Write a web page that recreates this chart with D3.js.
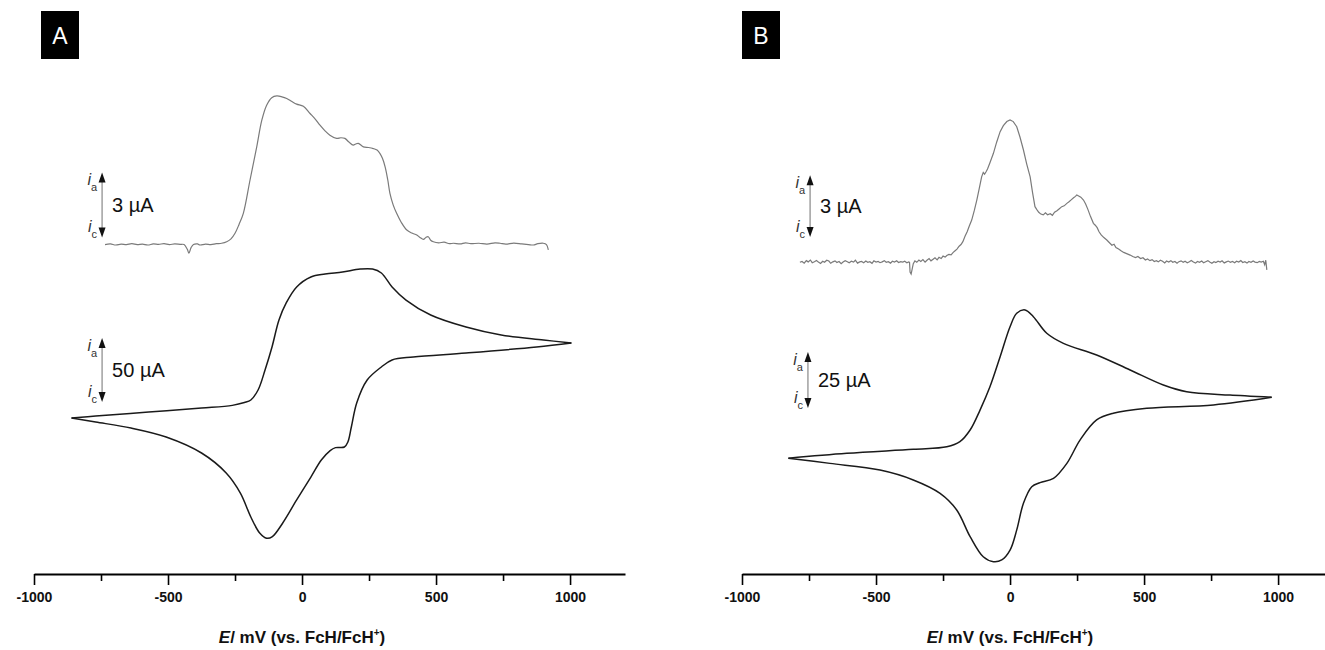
<!DOCTYPE html>
<html>
<head>
<meta charset="utf-8">
<script src="https://cdn.jsdelivr.net/npm/d3@7"></script>
<style>
  body { margin: 0; background: #fff; }
  svg { display: block; font-family: "Liberation Sans", Arial, sans-serif; }
</style>
</head>
<body>
<div id="chart"></div>
<script>
// ---- data (E in mV vs FcH/FcH+, i in µA) ----
const majorTicks = [-1000, -500, 0, 500, 1000];
const minorTicks = [-750, -250, 250, 750];

// panel A, differential pulse voltammogram
const dpvA = [[-735, 0.02], [-715, 0.05], [-695, 0.0], [-675, 0.04], [-655, 0.02], [-635, 0.06], [-615, 0.02],
  [-595, 0.04], [-575, 0.0], [-555, 0.05], [-535, 0.03], [-515, 0.06], [-495, 0.02], [-475, 0.05], [-455, 0.03],
  [-440, 0.02], [-428, -0.2], [-422, -0.38], [-414, -0.12], [-405, 0.02], [-390, 0.05], [-381, 0.0], [-360, 0.04],
  [-340, 0.02], [-320, 0.06], [-300, 0.08], [-281, 0.15], [-265, 0.28], [-250, 0.54], [-235, 0.95], [-219, 1.46],
  [-194, 3.0], [-169, 4.53], [-150, 5.76], [-132, 6.45], [-113, 6.8], [-94, 6.88], [-75, 6.84], [-57, 6.76],
  [-38, 6.62], [-20, 6.5], [5, 6.4], [30, 6.07], [50, 5.8], [67, 5.53], [85, 5.28], [104, 5.07], [129, 4.92],
  [145, 4.95], [160, 4.92], [175, 4.75], [191, 4.61], [200, 4.66], [210, 4.69], [229, 4.53], [248, 4.5],
  [266, 4.45], [280, 4.38], [291, 4.22], [300, 4.0], [310, 3.61], [320, 3.0], [328, 2.38], [340, 1.85],
  [353, 1.46], [370, 1.05], [391, 0.69], [410, 0.55], [428, 0.46], [440, 0.35], [453, 0.26], [462, 0.35],
  [471, 0.38], [480, 0.22], [490, 0.15], [510, 0.1], [530, 0.13], [550, 0.06], [565, 0.08], [590, 0.05],
  [610, 0.1], [630, 0.06], [660, 0.08], [690, 0.04], [720, 0.1], [739, 0.08], [760, 0.04], [790, 0.09],
  [820, 0.05], [845, 0.02], [863, 0.0], [880, 0.06], [900, 0.08], [912, 0.02], [919, -0.23]];

// panel A, cyclic voltammogram (anodic sweep, then cathodic sweep)
const cvA_forward = [[-860, -14.1], [-770, -12.5], [-572, -9.4], [-375, -6.3], [-260, -4.2], [-215, -2.0],
  [-191, 0], [-164, 7.8], [-138, 23.4], [-112, 41.4], [-86, 62.5], [-59, 75.8], [-20, 88.3], [33, 96.1],
  [86, 98.4], [151, 100], [217, 102.3], [263, 102.3], [296, 99.2], [336, 88.3], [388, 78.1], [480, 66.4],
  [612, 57.0], [743, 50.8], [901, 46.9], [1005, 44.5]];
const cvA_reverse = [[1005, 44.5], [875, 41.4], [612, 36.7], [415, 33.6], [336, 31.3], [296, 25.8], [243, 15.6],
  [204, -2.3], [184, -21.1], [171, -32.8], [158, -36.7], [125, -37.2], [105, -39.5], [72, -46.9], [33, -60.2],
  [-20, -78.1], [-72, -96.1], [-112, -107], [-132, -108], [-158, -103.9], [-191, -91.4], [-230, -72.7],
  [-283, -57.0], [-375, -41.4], [-507, -28.9], [-638, -21.9], [-770, -17.2], [-860, -14.1]];

// panel B, differential pulse voltammogram (noisy trace)
const dpvB = [[-784, 0.02], [-776, 0.06], [-768, -0.02], [-760, 0.1], [-753, 0.04], [-745, 0.13], [-738, 0.0],
  [-730, 0.05], [-722, 0.11], [-715, 0.03], [-707, -0.04], [-699, 0.07], [-692, 0.02], [-684, 0.12], [-676, 0.08],
  [-669, -0.03], [-661, 0.04], [-653, 0.09], [-646, 0.01], [-638, 0.06], [-630, -0.05], [-623, 0.03], [-615, 0.1],
  [-607, 0.05], [-600, 0.0], [-592, 0.07], [-584, 0.03], [-577, 0.12], [-569, -0.02], [-561, 0.04], [-554, 0.06],
  [-546, 0.0], [-538, 0.08], [-531, 0.02], [-523, 0.05], [-515, -0.03], [-508, 0.09], [-500, 0.03], [-492, 0.06],
  [-485, 0.0], [-477, 0.04], [-469, 0.1], [-462, 0.02], [-454, 0.05], [-446, -0.02], [-439, 0.07], [-431, 0.03],
  [-423, 0.09], [-416, 0.01], [-408, 0.05], [-400, 0.03], [-393, 0.07], [-385, 0.0], [-378, 0.04], [-375, 0.02],
  [-373, -0.45], [-369, -0.55], [-365, -0.3], [-361, -0.05], [-355, 0.09], [-348, 0.02], [-340, 0.13], [-333, 0.06],
  [-325, 0.15], [-317, 0.03], [-310, 0.12], [-302, 0.2], [-295, 0.09], [-287, 0.17], [-280, 0.24], [-272, 0.14],
  [-265, 0.26], [-257, 0.2], [-250, 0.32], [-242, 0.27], [-236, 0.35], [-228, 0.4], [-220, 0.38], [-212, 0.5],
  [-205, 0.58], [-198, 0.66], [-190, 0.8], [-183, 0.88], [-176, 1.02], [-168, 1.28], [-160, 1.5], [-152, 1.78],
  [-143, 2.07], [-133, 2.55], [-124, 3.04], [-115, 3.6], [-106, 4.17], [-100, 4.38], [-95, 4.3], [-90, 4.4],
  [-84, 4.55], [-75, 4.85], [-62, 5.31], [-50, 5.85], [-37, 6.36], [-25, 6.65], [-12, 6.85], [0, 6.93], [12, 6.85],
  [25, 6.6], [37, 6.1], [50, 5.47], [62, 4.8], [75, 4.17], [84, 3.4], [93, 2.72], [100, 2.58], [107, 2.45],
  [115, 2.36], [124, 2.32], [132, 2.42], [140, 2.33], [150, 2.38], [158, 2.3], [166, 2.45], [175, 2.52],
  [184, 2.62], [193, 2.72], [202, 2.76], [212, 2.88], [220, 2.96], [228, 3.05], [237, 3.15], [244, 3.22],
  [249, 3.29], [256, 3.24], [264, 3.18], [274, 3.04], [282, 2.85], [290, 2.6], [300, 2.25], [311, 1.91],
  [318, 1.82], [325, 1.7], [332, 1.5], [340, 1.35], [350, 1.22], [361, 1.1], [370, 0.98], [380, 0.85], [388, 0.9],
  [395, 0.74], [405, 0.66], [414, 0.58], [424, 0.5], [435, 0.44], [448, 0.37], [458, 0.3], [468, 0.25], [477, 0.3],
  [487, 0.2], [496, 0.24], [505, 0.13], [513, 0.18], [522, 0.1], [530, 0.15], [538, 0.06], [546, 0.1], [553, 0.04],
  [561, 0.12], [569, 0.07], [577, -0.01], [584, 0.08], [592, 0.03], [600, 0.1], [607, 0.02], [615, 0.06],
  [623, -0.03], [630, 0.05], [638, 0.09], [646, 0.02], [653, 0.07], [661, 0.0], [669, 0.05], [676, 0.11],
  [684, 0.03], [692, -0.02], [699, 0.06], [707, 0.02], [715, 0.08], [722, 0.0], [730, 0.05], [738, 0.1],
  [745, 0.03], [753, -0.03], [761, 0.05], [768, 0.01], [776, 0.07], [784, 0.03], [791, 0.09], [799, -0.01],
  [807, 0.04], [814, 0.08], [822, 0.02], [830, 0.06], [838, 0.0], [845, 0.07], [853, 0.03], [861, 0.1],
  [868, 0.01], [876, 0.05], [884, -0.02], [891, 0.06], [899, 0.02], [907, 0.08], [914, 0.03], [922, 0.0],
  [930, 0.06], [937, 0.03], [945, 0.07], [950, -0.1], [954, 0.12], [958, -0.35]];

// panel B, cyclic voltammogram
const cvB_forward = [[-827, -12.6], [-609, -10.4], [-361, -8.6], [-236, -7.5], [-187, -5.2], [-149, 0],
  [-112, 8.9], [-75, 19.3], [-37, 32.7], [0, 46.1], [25, 52.1], [56, 53.6], [87, 50.6], [137, 43.2],
  [199, 38.7], [323, 33.5], [448, 26.8], [572, 20.1], [659, 17.1], [821, 15.6], [976, 14.6]];
const cvB_reverse = [[976, 14.6], [759, 11.2], [510, 9.7], [385, 7.5], [323, 4.5], [261, -4.5], [212, -14.9],
  [162, -21.6], [112, -23.5], [81, -25.3], [50, -32.7], [25, -44.6], [0, -53.6], [-31, -58.0], [-62, -58.8],
  [-100, -56.6], [-149, -47.6], [-199, -35.7], [-261, -28.3], [-361, -22.3], [-485, -17.9], [-672, -14.9],
  [-827, -12.6]];

// scale bars: anchor potential, lower end current, span
const barsA = [{ E: -746, i0: 0.35, span: 3, label: '3 \u00b5A', curve: 'dpv' },
               { E: -746, i0: -1.6, span: 50, label: '50 \u00b5A', curve: 'cv' }];
const barsB = [{ E: -746, i0: 1.25, span: 3, label: '3 \u00b5A', curve: 'dpv' },
               { E: -754, i0: 9.8, span: 25, label: '25 \u00b5A', curve: 'cv' }];

const width = 1325, height = 650;
const svg = d3.select('#chart').append('svg')
  .attr('width', width).attr('height', height);
svg.append('rect').attr('width', width).attr('height', height).attr('fill', '#fff');

const panels = [
  { letter: 'A', box: 41, x: d3.scaleLinear().domain([-1000, 1205]).range([34, 625]),
    dpv: dpvA, cvF: cvA_forward, cvR: cvA_reverse, bars: barsA,
    yDpv: d3.scaleLinear().domain([0, 3]).range([245, 180]),
    yCv: d3.scaleLinear().domain([0, 50]).range([400, 336]) },
  { letter: 'B', box: 742, x: d3.scaleLinear().domain([-1000, 1175]).range([742, 1325]),
    dpv: dpvB, cvF: cvB_forward, cvR: cvB_reverse, bars: barsB,
    yDpv: d3.scaleLinear().domain([0, 3]).range([262.7, 200.9]),
    yCv: d3.scaleLinear().domain([0, 25]).range([430, 374]) }
];

const axisY = 574;

panels.forEach(p => {
  const g = svg.append('g');

  // panel letter
  g.append('rect').attr('x', p.box).attr('y', 11).attr('width', 38).attr('height', 48).attr('fill', '#000');
  g.append('text').attr('x', p.box + 19).attr('y', 44).attr('text-anchor', 'middle')
    .attr('fill', '#fff').style('font-size', '23px').text(p.letter);

  // x axis
  const ax = g.append('g').attr('transform', `translate(0,${axisY})`);
  ax.call(d3.axisBottom(p.x).tickValues(majorTicks).tickSize(11).tickSizeOuter(0).tickFormat(d => String(d)));
  ax.append('g').call(d3.axisBottom(p.x).tickValues(minorTicks).tickSize(7).tickFormat(''))
    .select('.domain').remove();
  ax.selectAll('.domain').attr('stroke', '#000').attr('stroke-width', 2);
  ax.selectAll('.tick line').attr('stroke', '#000').attr('stroke-width', 1.6);
  ax.selectAll('.tick text').attr('fill', '#111').attr('dy', '1.0em')
    .style('font-size', '14px').style('font-weight', 'bold')
    .style('font-family', '"Liberation Sans", Arial, sans-serif');

  const lbl = g.append('text').attr('x', p.x(0)).attr('y', 643).attr('text-anchor', 'middle')
    .style('font-size', '17px').style('font-weight', 'bold').attr('fill', '#111');
  lbl.append('tspan').style('font-style', 'italic').text('E');
  lbl.append('tspan').text('/ mV (vs. FcH/FcH');
  lbl.append('tspan').attr('dy', -7).style('font-size', '10px').text('+');
  lbl.append('tspan').attr('dy', 7).text(')');

  // curves
  const lineDpv = d3.line().x(d => p.x(d[0])).y(d => p.yDpv(d[1]))
    .curve(p.letter === 'A' ? d3.curveCatmullRom.alpha(0.5) : d3.curveLinear);
  const lineCv = d3.line().x(d => p.x(d[0])).y(d => p.yCv(d[1])).curve(d3.curveCatmullRom.alpha(0.5));

  g.append('path').datum(p.dpv).attr('d', lineDpv)
    .attr('fill', 'none').attr('stroke', '#7a7a7a').attr('stroke-width', 1.2);
  [p.cvF, p.cvR].forEach(br => {
    g.append('path').datum(br).attr('d', lineCv)
      .attr('fill', 'none').attr('stroke', '#1a1a1a').attr('stroke-width', 1.5);
  });

  // current scale bars
  p.bars.forEach(b => {
    const ys = b.curve === 'dpv' ? p.yDpv : p.yCv;
    const x = p.x(b.E);
    const yb = ys(b.i0), yt = ys(b.i0 + b.span);
    g.append('line').attr('x1', x).attr('x2', x).attr('y1', yt + 6).attr('y2', yb - 6)
      .attr('stroke', '#888').attr('stroke-width', 1.2);
    g.append('path').attr('d', `M${x},${yt} L${x - 3.5},${yt + 10} L${x + 3.5},${yt + 10} Z`).attr('fill', '#111');
    g.append('path').attr('d', `M${x},${yb} L${x - 3.5},${yb - 10} L${x + 3.5},${yb - 10} Z`).attr('fill', '#111');

    [['a', yt + 13], ['c', yb - 5]].forEach(([s, y]) => {
      const t = g.append('text').attr('x', x - 5).attr('y', y).attr('text-anchor', 'end')
        .attr('fill', '#333').style('font-size', '16px');
      t.append('tspan').style('font-style', 'italic').text('i');
      t.append('tspan').attr('dy', 6).style('font-size', '11px').text(s);
    });

    g.append('text').attr('x', x + 10).attr('y', (yt + yb) / 2 + 7)
      .attr('fill', '#111').style('font-size', '20px').text(b.label);
  });
});
</script>
</body>
</html>
